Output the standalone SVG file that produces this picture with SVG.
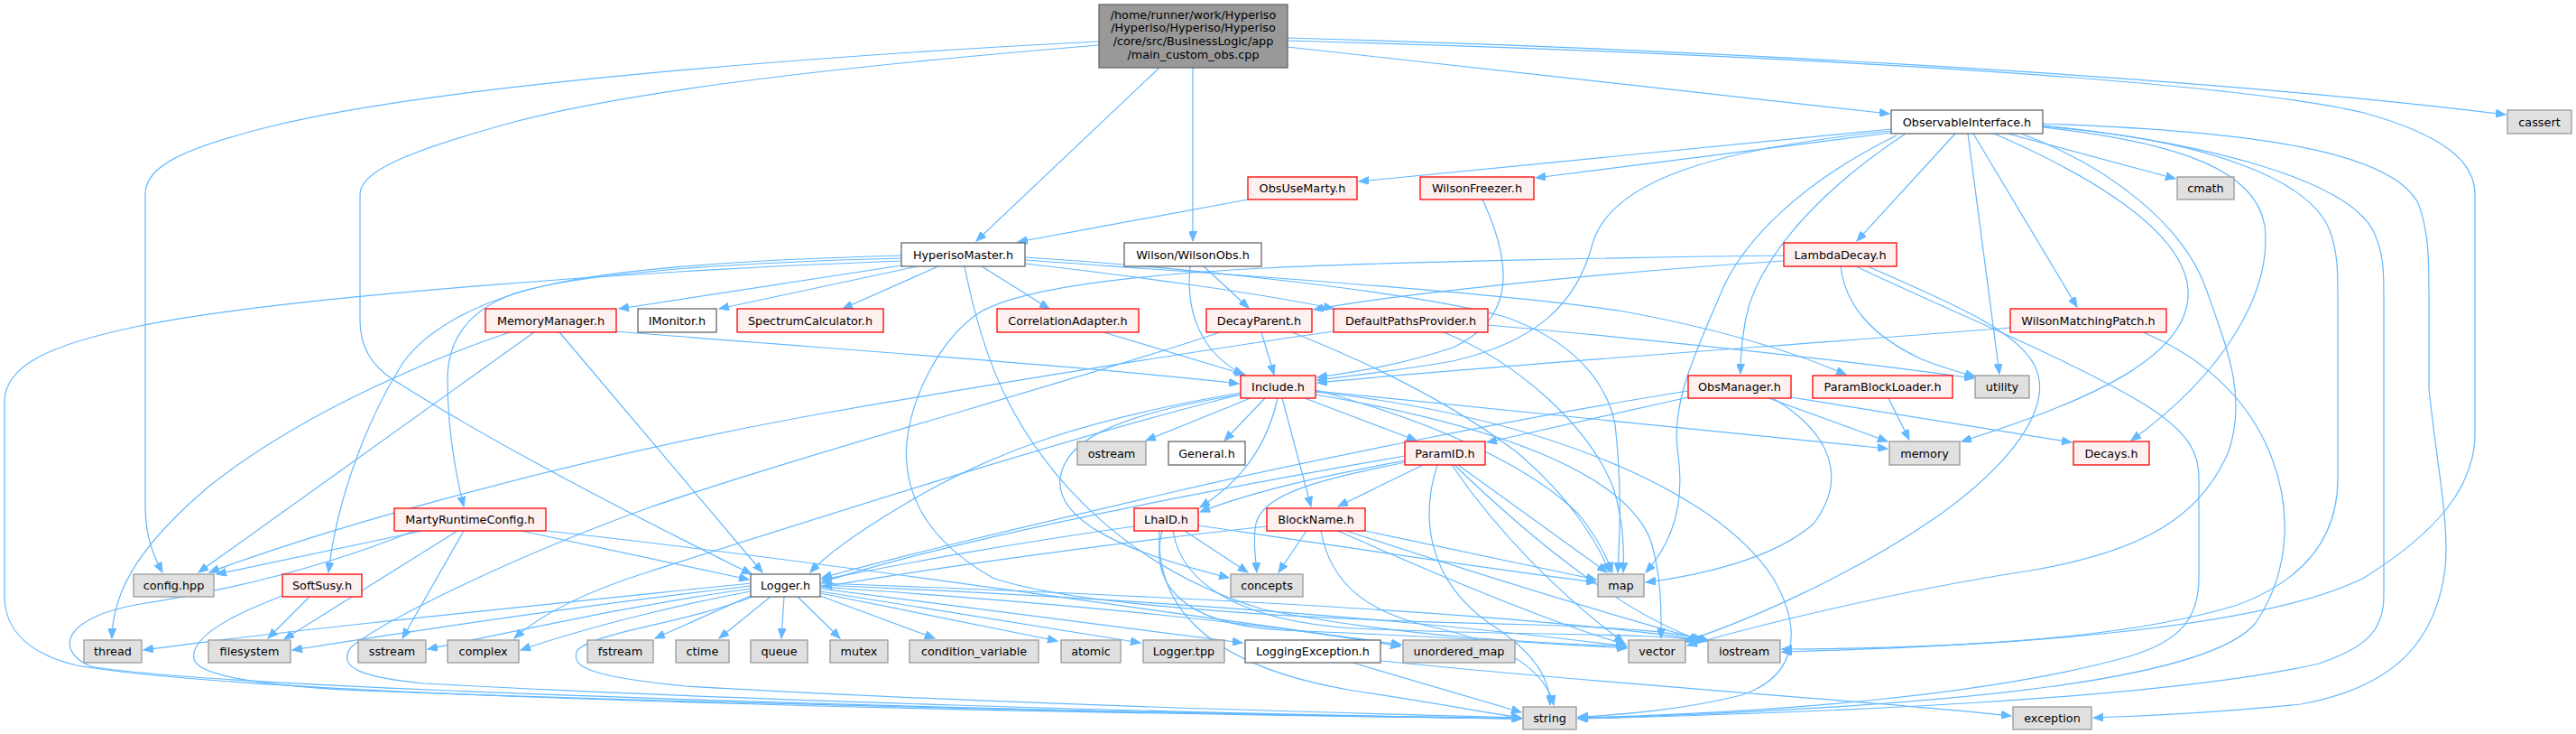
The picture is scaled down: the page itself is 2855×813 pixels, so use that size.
<svg xmlns="http://www.w3.org/2000/svg" width="2855" height="813" viewBox="0 0 2855 813">
<defs>
<marker id="a" markerUnits="userSpaceOnUse" markerWidth="12" markerHeight="9" refX="11" refY="4.5" orient="auto"><path d="M0,0 L11,4.5 L0,9 z" fill="#63b8ff" stroke="#63b8ff" stroke-width="1"/></marker>
<style>
.node rect{stroke-width:1.3}
.w rect{fill:#ffffff;stroke:#666666}
.r rect{fill:#fff0f0;stroke:#ff0000}
.g rect{fill:#e0e0e0;stroke:#999999}
.m rect{fill:#999999;stroke:#666666}
text{font-family:"DejaVu Sans","Liberation Sans",sans-serif;font-size:12.8px;text-anchor:middle;fill:#000000}
#edges path{fill:none;stroke:#63b8ff;stroke-width:1.2;marker-end:url(#a)}
</style>
</defs>
<rect width="2855" height="813" fill="#ffffff"/>
<g id="edges">
<path d="M1285,75 L1082,267"/>
<path d="M1322,75 L1322,267"/>
<path d="M1427,52 L2094,126"/>
<path d="M1427,42 C1800,52 2400,80 2777,127"/>
<path d="M1427,45 C1900,58 2450,85 2620,125 C2710,150 2743,180 2743,215 L2743,480 C2743,540 2700,590 2620,640 C2500,700 2200,716 1975,722"/>
<path d="M1218,46 C900,62 480,95 300,140 C200,165 161,185 161,215 L161,560 C161,595 170,615 180,634"/>
<path d="M1218,50 C1000,68 720,95 570,135 C450,168 399,190 399,215 L399,355 C399,385 412,405 435,420 C560,500 740,590 833,636"/>
<path d="M999,294 L686,342"/>
<path d="M1017,295 L797,342"/>
<path d="M1040,295 L934,342"/>
<path d="M1088,295 L1163,342"/>
<path d="M999,283 C850,287 700,295 610,315 C520,335 470,370 448,400 C415,450 375,540 364,634"/>
<path d="M999,286 C850,290 650,300 570,325 C515,345 496,380 496,420 C496,475 505,525 514,561"/>
<path d="M999,289 C700,300 300,330 150,362 C55,382 5,405 5,445 L5,660 C5,700 35,725 85,737 C300,775 1200,790 1686,796"/>
<path d="M1069,295 C1080,350 1095,400 1115,440 C1160,530 1250,630 1400,675 C1550,705 1700,712 1803,716"/>
<path d="M1136,285 C1300,295 1560,322 1665,350 C1740,375 1780,420 1790,470 C1798,540 1795,595 1793,634"/>
<path d="M1136,288 C1300,300 1650,322 1800,345 C1920,367 2000,395 2046,415"/>
<path d="M1136,292 C1250,305 1400,325 1478,342"/>
<path d="M1383,221 L1128,268"/>
<path d="M1334,295 L1384,341"/>
<path d="M1319,295 C1314,345 1330,390 1378,415"/>
<path d="M1223,368 L1380,415"/>
<path d="M1398,368 L1412,415"/>
<path d="M1352,368 C1200,420 900,500 720,562 C560,620 420,690 388,718 C375,740 400,750 470,757 C800,775 1300,790 1686,796"/>
<path d="M1432,368 C1500,395 1600,440 1680,500 C1740,550 1770,600 1784,634"/>
<path d="M1649,360 C1850,378 2050,400 2188,419"/>
<path d="M1600,368 C1680,400 1760,470 1788,540 C1800,580 1800,610 1799,634"/>
<path d="M1478,367 C1350,385 1100,425 900,460 C600,515 350,590 232,634"/>
<path d="M1643,221 C1680,300 1675,355 1610,385 C1550,405 1500,412 1460,418"/>
<path d="M683,367 C900,385 1200,405 1373,425"/>
<path d="M592,368 L220,634"/>
<path d="M620,368 L845,634"/>
<path d="M565,368 C470,400 330,460 230,540 C160,600 125,650 124,707"/>
<path d="M1977,289 C1800,300 1550,325 1456,343"/>
<path d="M2040,295 C2045,335 2070,370 2130,398 C2155,408 2170,412 2189,417"/>
<path d="M2057,295 C2150,340 2300,400 2380,450 C2430,482 2437,505 2437,530 L2437,640 C2437,690 2410,712 2360,727 C2200,772 1950,790 1749,795"/>
<path d="M2070,295 C2160,335 2235,365 2255,405 C2275,445 2240,505 2150,570 C2050,640 1930,690 1866,711"/>
<path d="M1977,283 C1800,285 1550,290 1400,297 C1250,305 1120,320 1080,350 C1040,380 1010,440 1005,490 C1000,550 1030,600 1100,640 C1200,675 1500,688 1700,692 C1800,695 1860,700 1894,710"/>
<path d="M2096,143 L1506,201"/>
<path d="M2096,145 C1900,165 1785,200 1765,270 C1748,335 1705,378 1610,400 C1540,412 1495,416 1460,421"/>
<path d="M2096,147 L1702,197"/>
<path d="M2102,150 C2000,200 1930,265 1905,330 C1870,410 1852,455 1860,505 C1868,565 1850,605 1824,634"/>
<path d="M2112,148 C2010,215 1955,285 1938,340 C1930,370 1929,395 1929,414"/>
<path d="M2167,148 L2058,267"/>
<path d="M2187,148 L2302,340"/>
<path d="M2181,148 L2216,414"/>
<path d="M2225,148 L2411,198"/>
<path d="M2210,148 C2330,200 2420,260 2425,320 C2430,390 2330,440 2174,489"/>
<path d="M2264,141 C2420,158 2500,190 2510,250 C2518,320 2470,410 2362,488"/>
<path d="M2240,148 C2340,185 2420,250 2445,320 C2470,390 2490,440 2470,500 C2440,570 2380,610 2250,632 C2100,655 1950,692 1870,715"/>
<path d="M2264,139 C2450,158 2600,200 2630,255 C2642,280 2642,300 2642,330 L2642,660 C2642,700 2620,718 2570,735 C2400,775 2000,790 1749,796"/>
<path d="M2264,137 C2500,145 2650,168 2680,225 C2692,255 2692,290 2692,330 L2692,430 C2700,510 2715,580 2710,630 C2700,705 2660,760 2550,780 C2450,790 2380,793 2320,795"/>
<path d="M2264,140 C2450,155 2560,200 2582,255 C2591,280 2591,300 2591,330 L2591,530 C2591,590 2560,640 2480,670 C2350,710 2150,718 1975,719"/>
<path d="M2228,363 C1950,385 1650,405 1460,424"/>
<path d="M2375,368 C2440,395 2490,440 2515,500 C2540,560 2540,630 2500,690 C2450,750 2200,782 1749,796"/>
<path d="M1871,440 L1648,490"/>
<path d="M1871,433 C1700,460 1450,510 1300,545 C1150,580 1000,615 911,640"/>
<path d="M1985,440 L2296,490"/>
<path d="M1960,441 L2092,489"/>
<path d="M1965,441 C2030,480 2048,530 2010,580 C1965,620 1880,638 1824,645"/>
<path d="M2093,441 L2116,487"/>
<path d="M1386,441 L1270,488"/>
<path d="M1402,441 L1357,488"/>
<path d="M1416,441 C1405,490 1380,530 1330,562"/>
<path d="M1446,441 L1570,488"/>
<path d="M1421,441 L1453,561"/>
<path d="M1375,435 C1200,465 1100,500 1000,560 C950,590 915,615 898,634"/>
<path d="M1375,437 C1230,460 1180,490 1175,530 C1170,575 1240,610 1362,640"/>
<path d="M1458,432 C1600,470 1700,520 1750,570 C1770,595 1780,615 1787,634"/>
<path d="M1458,433 L2092,497"/>
<path d="M1458,437 C1650,470 1800,520 1830,600 C1842,640 1841,680 1841,707"/>
<path d="M1458,434 C1700,460 1900,540 1965,640 C2000,700 1990,750 1930,770 C1870,785 1800,792 1749,794"/>
<path d="M1375,437 C1200,480 950,560 720,633 C650,655 600,680 570,707"/>
<path d="M1577,515 L1483,561"/>
<path d="M1616,515 L1781,634"/>
<path d="M1593,515 C1575,570 1580,640 1650,690 C1705,725 1718,755 1718,781"/>
<path d="M1557,510 C1480,525 1400,540 1330,567"/>
<path d="M1557,505 C1300,550 1050,600 911,645"/>
<path d="M1557,512 C1470,530 1400,545 1392,580 C1388,600 1392,620 1393,634"/>
<path d="M1609,515 C1660,590 1730,660 1800,712"/>
<path d="M1612,515 C1700,600 1800,680 1884,709"/>
<path d="M1448,588 L1417,634"/>
<path d="M1513,588 L1769,642"/>
<path d="M1404,583 C1200,605 1000,635 911,650"/>
<path d="M1483,588 C1600,640 1720,690 1802,714"/>
<path d="M1492,588 C1650,640 1800,685 1887,709"/>
<path d="M1464,588 C1475,650 1520,680 1590,695 C1680,715 1715,750 1722,781"/>
<path d="M1257,583 C1100,605 1000,625 911,642"/>
<path d="M1313,588 L1383,634"/>
<path d="M1328,582 C1450,600 1650,630 1769,645"/>
<path d="M1288,588 C1275,640 1300,690 1420,698 C1600,705 1700,712 1803,718"/>
<path d="M1300,588 C1310,650 1380,688 1500,696 C1700,705 1820,700 1890,710"/>
<path d="M1285,588 C1280,680 1350,740 1500,765 C1600,780 1650,790 1686,795"/>
<path d="M832,646 C600,670 300,700 159,720"/>
<path d="M832,649 C650,670 450,700 324,720"/>
<path d="M832,652 C700,670 570,700 474,719"/>
<path d="M832,655 C750,670 650,695 577,720"/>
<path d="M834,659 L726,707"/>
<path d="M854,661 L797,707"/>
<path d="M869,661 L866,707"/>
<path d="M884,661 L931,707"/>
<path d="M909,660 L1036,707"/>
<path d="M909,657 L1172,710"/>
<path d="M909,655 L1264,712"/>
<path d="M909,652 L1377,712"/>
<path d="M909,650 C1200,670 1400,690 1552,716"/>
<path d="M909,648 C1300,665 1600,690 1802,716"/>
<path d="M909,646 C1300,660 1700,680 1892,710"/>
<path d="M834,661 C760,690 660,700 640,720 C630,740 660,750 760,760 C1100,780 1500,790 1686,795"/>
<path d="M1499,734 L1686,789"/>
<path d="M1531,732 C1800,760 2100,778 2229,793"/>
<path d="M468,588 L240,636"/>
<path d="M507,588 L315,708"/>
<path d="M514,588 L446,707"/>
<path d="M578,588 L830,642"/>
<path d="M459,588 C380,620 280,650 150,670 C70,685 60,720 100,738 C250,765 1200,790 1686,796"/>
<path d="M606,588 C900,620 1300,680 1553,714"/>
<path d="M343,661 L297,707"/>
<path d="M313,660 C260,680 210,705 215,730 C220,750 300,760 400,765 C800,780 1300,790 1686,796"/>
</g>
<g id="n_main" class="node m"><rect x="1218" y="5" width="209" height="70"/><text x="1322.5" y="20.5">/home/runner/work/Hyperiso</text><text x="1322.5" y="35.2">/Hyperiso/Hyperiso/Hyperiso</text><text x="1322.5" y="49.9">/core/src/BusinessLogic/app</text><text x="1322.5" y="64.6">/main_custom_obs.cpp</text></g>
<g id="n_observableinterface" class="node w"><rect x="2096" y="122" width="168" height="26"/><text x="2180" y="139.6">ObservableInterface.h</text></g>
<g id="n_cassert" class="node g"><rect x="2779" y="122" width="71" height="26"/><text x="2814.5" y="139.6">cassert</text></g>
<g id="n_obsusemarty" class="node r"><rect x="1383" y="196" width="121" height="25"/><text x="1443.5" y="213.1">ObsUseMarty.h</text></g>
<g id="n_wilsonfreezer" class="node r"><rect x="1574" y="196" width="126" height="25"/><text x="1637" y="213.1">WilsonFreezer.h</text></g>
<g id="n_cmath" class="node g"><rect x="2413" y="196" width="63" height="25"/><text x="2444.5" y="213.1">cmath</text></g>
<g id="n_hyperisomaster" class="node w"><rect x="999" y="269" width="137" height="26"/><text x="1067.5" y="286.6">HyperisoMaster.h</text></g>
<g id="n_wilsonobs" class="node w"><rect x="1246" y="269" width="152" height="26"/><text x="1322" y="286.6">Wilson/WilsonObs.h</text></g>
<g id="n_lambdadecay" class="node r"><rect x="1977" y="269" width="125" height="26"/><text x="2039.5" y="286.6">LambdaDecay.h</text></g>
<g id="n_memorymanager" class="node r"><rect x="538" y="342" width="145" height="26"/><text x="610.5" y="359.6">MemoryManager.h</text></g>
<g id="n_imonitor" class="node w"><rect x="707" y="342" width="87" height="26"/><text x="750.5" y="359.6">IMonitor.h</text></g>
<g id="n_spectrumcalculator" class="node r"><rect x="817" y="342" width="162" height="26"/><text x="898" y="359.6">SpectrumCalculator.h</text></g>
<g id="n_correlationadapter" class="node r"><rect x="1105" y="342" width="157" height="26"/><text x="1183.5" y="359.6">CorrelationAdapter.h</text></g>
<g id="n_decayparent" class="node r"><rect x="1337" y="342" width="117" height="26"/><text x="1395.5" y="359.6">DecayParent.h</text></g>
<g id="n_defaultpathsprovider" class="node r"><rect x="1478" y="342" width="171" height="26"/><text x="1563.5" y="359.6">DefaultPathsProvider.h</text></g>
<g id="n_wilsonmatchingpatch" class="node r"><rect x="2228" y="342" width="173" height="26"/><text x="2314.5" y="359.6">WilsonMatchingPatch.h</text></g>
<g id="n_include" class="node r"><rect x="1375" y="416" width="83" height="25"/><text x="1416.5" y="433.1">Include.h</text></g>
<g id="n_obsmanager" class="node r"><rect x="1871" y="416" width="114" height="25"/><text x="1928" y="433.1">ObsManager.h</text></g>
<g id="n_paramblockloader" class="node r"><rect x="2009" y="416" width="155" height="25"/><text x="2086.5" y="433.1">ParamBlockLoader.h</text></g>
<g id="n_utility" class="node g"><rect x="2189" y="416" width="60" height="25"/><text x="2219" y="433.1">utility</text></g>
<g id="n_ostream" class="node g"><rect x="1194" y="489" width="76" height="26"/><text x="1232" y="506.6">ostream</text></g>
<g id="n_general" class="node w"><rect x="1295" y="489" width="85" height="26"/><text x="1337.5" y="506.6">General.h</text></g>
<g id="n_paramid" class="node r"><rect x="1557" y="489" width="89" height="26"/><text x="1601.5" y="506.6">ParamID.h</text></g>
<g id="n_memory" class="node g"><rect x="2094" y="489" width="78" height="26"/><text x="2133" y="506.6">memory</text></g>
<g id="n_decays" class="node r"><rect x="2298" y="489" width="84" height="26"/><text x="2340" y="506.6">Decays.h</text></g>
<g id="n_martyruntimeconfig" class="node r"><rect x="437" y="563" width="168" height="25"/><text x="521" y="580.1">MartyRuntimeConfig.h</text></g>
<g id="n_lhaid" class="node r"><rect x="1257" y="563" width="71" height="25"/><text x="1292.5" y="580.1">LhaID.h</text></g>
<g id="n_blockname" class="node r"><rect x="1404" y="563" width="109" height="25"/><text x="1458.5" y="580.1">BlockName.h</text></g>
<g id="n_confighpp" class="node g"><rect x="148" y="636" width="89" height="25"/><text x="192.5" y="653.1">config.hpp</text></g>
<g id="n_softsusy" class="node r"><rect x="313" y="636" width="88" height="25"/><text x="357" y="653.1">SoftSusy.h</text></g>
<g id="n_logger" class="node w"><rect x="832" y="636" width="77" height="25"/><text x="870.5" y="653.1">Logger.h</text></g>
<g id="n_concepts" class="node g"><rect x="1364" y="636" width="80" height="25"/><text x="1404" y="653.1">concepts</text></g>
<g id="n_map" class="node g"><rect x="1771" y="636" width="51" height="25"/><text x="1796.5" y="653.1">map</text></g>
<g id="n_thread" class="node g"><rect x="93" y="709" width="64" height="25"/><text x="125" y="726.1">thread</text></g>
<g id="n_filesystem" class="node g"><rect x="231" y="709" width="91" height="25"/><text x="276.5" y="726.1">filesystem</text></g>
<g id="n_sstream" class="node g"><rect x="397" y="709" width="75" height="25"/><text x="434.5" y="726.1">sstream</text></g>
<g id="n_complex" class="node g"><rect x="496" y="709" width="79" height="25"/><text x="535.5" y="726.1">complex</text></g>
<g id="n_fstream" class="node g"><rect x="651" y="709" width="73" height="25"/><text x="687.5" y="726.1">fstream</text></g>
<g id="n_ctime" class="node g"><rect x="749" y="709" width="59" height="25"/><text x="778.5" y="726.1">ctime</text></g>
<g id="n_queue" class="node g"><rect x="832" y="709" width="63" height="25"/><text x="863.5" y="726.1">queue</text></g>
<g id="n_mutex" class="node g"><rect x="920" y="709" width="64" height="25"/><text x="952" y="726.1">mutex</text></g>
<g id="n_condition_variable" class="node g"><rect x="1008" y="709" width="143" height="25"/><text x="1079.5" y="726.1">condition_variable</text></g>
<g id="n_atomic" class="node g"><rect x="1176" y="709" width="66" height="25"/><text x="1209" y="726.1">atomic</text></g>
<g id="n_loggertpp" class="node g"><rect x="1267" y="709" width="90" height="25"/><text x="1312" y="726.1">Logger.tpp</text></g>
<g id="n_loggingexception" class="node w"><rect x="1380" y="709" width="150" height="25"/><text x="1455" y="726.1">LoggingException.h</text></g>
<g id="n_unordered_map" class="node g"><rect x="1555" y="709" width="124" height="25"/><text x="1617" y="726.1">unordered_map</text></g>
<g id="n_vector" class="node g"><rect x="1805" y="709" width="63" height="25"/><text x="1836.5" y="726.1">vector</text></g>
<g id="n_iostream" class="node g"><rect x="1893" y="709" width="80" height="25"/><text x="1933" y="726.1">iostream</text></g>
<g id="n_string" class="node g"><rect x="1688" y="783" width="59" height="25"/><text x="1717.5" y="800.1">string</text></g>
<g id="n_exception" class="node g"><rect x="2231" y="783" width="87" height="25"/><text x="2274.5" y="800.1">exception</text></g>
</svg>
